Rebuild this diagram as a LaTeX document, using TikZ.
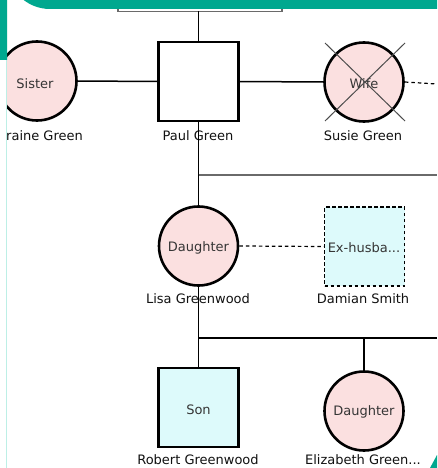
\documentclass[tikz,border=0pt]{standalone}
\usepackage{fontspec}
\setmainfont{DejaVu Sans}
\definecolor{teal1}{HTML}{00A88F}
\definecolor{tealL}{HTML}{BDEFE6}
\definecolor{pinkF}{HTML}{FBE0E0}
\definecolor{cyanF}{HTML}{DDFAFB}
\definecolor{txt}{HTML}{111111}
\definecolor{greyL}{HTML}{6A6A6A}
\tikzset{
  x=1pt, y=-1pt,
  lbl/.style={font=\fontsize{13}{15}\selectfont, text=txt, inner sep=0pt},
  inner/.style={font=\fontsize{13}{15}\selectfont, text=txt!85, align=center},
  fem/.style={circle, draw=black, line width=2.6pt, fill=pinkF, minimum size=79pt, inner sep=0pt},
  male/.style={rectangle, draw=black, line width=2.6pt, minimum width=80pt, minimum height=79pt, inner sep=0pt},
  conn/.style={draw=black, line width=1.5pt},
  gconn/.style={draw=greyL, line width=1.8pt},
  dconn/.style={draw=black, line width=1.2pt, dash pattern=on 3.5pt off 3pt},
}
\begin{document}
\begin{tikzpicture}
\useasboundingbox (0,0) rectangle (437,468);
\fill[white] (0,0) rectangle (437,468);
\begin{scope}
\clip (7,9) rectangle (437,468);
% nodes
\node[fem] (sister) at (37,81) {};
\node[inner] at (35,84) {Sister};
\node[male, fill=white] (paul) at (198.5,81.5) {};
\node[fem] (wife) at (364,82) {};
\node[inner] at (364,84) {Wife};
\node[fem] (lisa) at (198.5,246) {};
\node[inner] at (198.5,248) {Daughter};
\node[male, fill=cyanF, draw=black, line width=1.2pt, dash pattern=on 3.5pt off 2.5pt] (damian) at (364.5,246.5) {};
\node[inner] at (364,248) {Ex-husba...};
\node[male, fill=cyanF] (robert) at (198.5,407.5) {};
\node[inner] at (198.5,410) {Son};
\node[fem] (eliz) at (364,411) {};
\node[inner] at (364,412) {Daughter};
% labels
\node[lbl, anchor=west] (lsister) at (6,136) {raine Green};
\node[lbl] (lpaul) at (198,136) {Paul Green};
\node[lbl] (lwife) at (363,136) {Susie Green};
\node[lbl] (llisa) at (198,299) {Lisa Greenwood};
\node[lbl] (ldamian) at (363,299) {Damian Smith};
\node[lbl] (lrobert) at (198,460) {Robert Greenwood};
\node[lbl] (leliz) at (363,460) {Elizabeth Green...};
% cross on wife
\draw[draw=black!70, line width=1pt] ([shift={(-39,-39)}]wife.center) -- ([shift={(41,39)}]wife.center);
\draw[draw=black!70, line width=1pt] ([shift={(41,-39)}]wife.center) -- ([shift={(-39,39)}]wife.center);
% coordinates
\coordinate (barL) at (118,11.5);
\coordinate (barR) at (282,11.5);
\coordinate (barM) at (198.5,11.5);
\coordinate (wifeEnd) at (437,84);
\coordinate (j1) at (198.5,175);
\coordinate (e1) at (437,175);
\coordinate (j2) at (198.5,338);
\coordinate (e2) at (437,338);
\coordinate (k2) at (364,338);
% connectors
\draw[gconn] ([yshift=2.5pt]barL) -- (barL) -- (barR) -- ([yshift=2.5pt]barR);
\draw[conn] (barM) -- (paul.north);
\draw[conn] (sister.east) -- (paul.west);
\draw[conn] (paul.east) -- (wife.west);
\draw[dconn] (wife.east) -- (wifeEnd);
\draw[conn] (paul.south) -- (lisa.north);
\draw[gconn] (j1) -- (e1);
\draw[dconn] (lisa.east) -- (damian.west);
\draw[conn] (lisa.south) -- (robert.north);
\draw[conn] (j2) -- (e2);
\draw[conn] (k2) -- (eliz.north);
\end{scope}
% frame decoration
\fill[teal1] (0,0) -- (437,0) -- (437,9) -- (50,9) arc[start angle=90, end angle=180, radius=43] -- (7,60) -- (0,60) -- cycle;
\draw[tealL, line width=1.2pt] (6.5,60) -- (6.5,468);
\fill[teal1] (430,468) -- (437,468) -- (437,455) -- cycle;
\end{tikzpicture}
\end{document}
